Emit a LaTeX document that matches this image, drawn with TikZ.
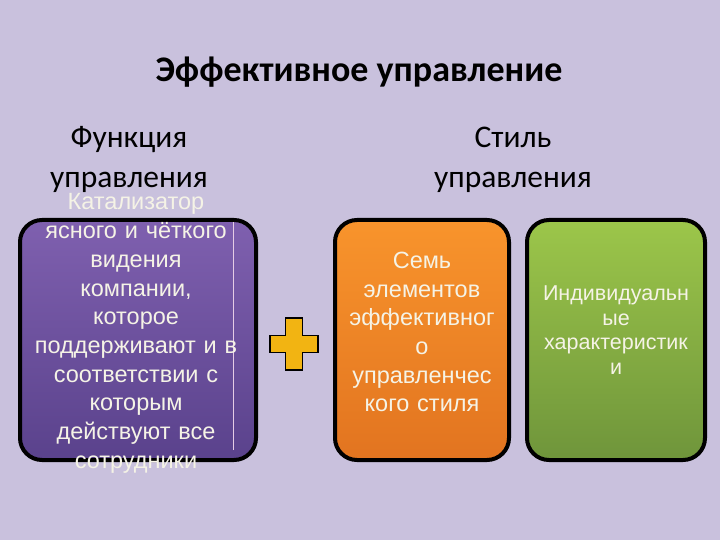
\documentclass[tikz,border=0pt]{standalone}
\usepackage{fontspec}
\setmainfont{Liberation Sans}
\newfontfamily\headfont{Carlito}
\usetikzlibrary{positioning}
\definecolor{bgviolet}{HTML}{C9C1DD}
\definecolor{boxwhite}{HTML}{F5F3E6}
\definecolor{plusyellow}{HTML}{F2B412}
\definecolor{violettop}{HTML}{7F60AF}
\definecolor{violetbot}{HTML}{5A428C}
\definecolor{orangetop}{HTML}{F8942C}
\definecolor{orangebot}{HTML}{E27420}
\definecolor{greentop}{HTML}{9CC64A}
\definecolor{greenbot}{HTML}{6F953B}
\tikzset{
    x=1pt,y=-1pt,
    card/.style={
        draw=black,line width=4pt,rounded corners=22pt,
        minimum height=240pt,
    },
    card text/.style={
        text=boxwhite,align=center,
        font=\fontsize{23.5}{28.7}\selectfont
    },
    head/.style={font=\headfont\fontsize{31.5}{40}\selectfont,align=center},
}
\begin{document}
\begin{tikzpicture}
		\fill[bgviolet] (0,0) rectangle (720,540);
		\useasboundingbox (0,0) rectangle (720,540);
		\node[head,font=\headfont\bfseries\fontsize{36}{40}\selectfont] (title) at (359,72) {Эффективное управление};
		\node[head] (func) at (129,159) {Функция\\управления};
		\node[head] (style) at (513,160) {Стиль\\управления};

		\node[card,minimum width=236pt,top color=violettop,bottom color=violetbot] (vision) at (138,340) {};
		\draw[white!80!violet,thin] (233,222) -- (233,450);
		\node[card,minimum width=174pt,top color=orangetop,bottom color=orangebot] (seven) at (422,340) {};
		\node[card,minimum width=178pt,top color=greentop,bottom color=greenbot] (traits) at (616,340) {};

		\node[card text,text width=240pt] (visiontext) at (136,333.5) {Катализатор\\ясного и чёткого\\видения\\компании,\\которое\\поддерживают и в\\соответствии с\\которым\\действуют все\\сотрудники};
		\node[card text,text width=174pt] (seventext) at (422,332) {Семь\\элементов\\эффективног\\о\\управленчес\\кого стиля};
		\node[card text,text width=178pt,font=\fontsize{21.5}{24.5}\selectfont] (traitstext) at (616,330) {Индивидуальн\\ые\\характеристик\\и};

		% plus sign between the cards
		\coordinate (plus) at (294,344);
		\draw[fill=plusyellow,line width=1.6pt,line join=miter]
			([shift={(-8.5,-26)}]plus) -- ++(17,0) -- ++(0,17.5) -- ++(15.5,0) -- ++(0,17)
			-- ++(-15.5,0) -- ++(0,17.5) -- ++(-17,0) -- ++(0,-17.5) -- ++(-15.5,0)
			-- ++(0,-17) -- ++(15.5,0) -- cycle;
	\end{tikzpicture}
\end{document}
